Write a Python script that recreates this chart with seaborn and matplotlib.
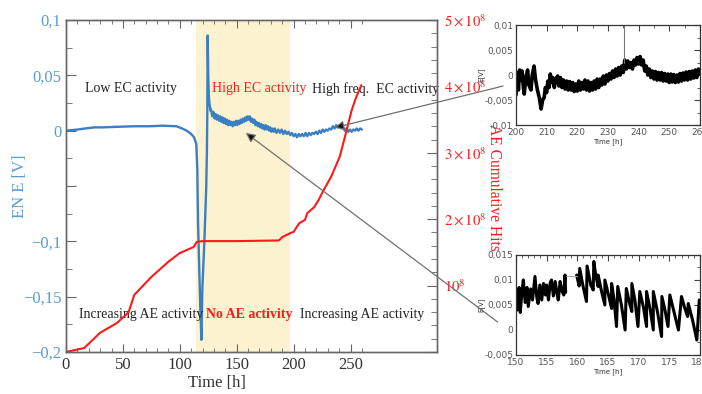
import matplotlib
matplotlib.use("Agg")
import matplotlib.pyplot as plt
import seaborn as sns
import numpy as np
from matplotlib.patches import ConnectionPatch
from matplotlib.ticker import MultipleLocator, FixedLocator, FuncFormatter

sns.set_style("white")
plt.rcParams["font.family"] = ["Liberation Serif", "DejaVu Serif"]
plt.rcParams["mathtext.fontset"] = "stix"

# --- DATOS: señal ENE (eje izquierdo) ---
ene_t = [0, 10, 17, 25, 33, 45, 60, 73, 85, 97, 102, 106, 110, 112.5, 114.5, 115.4, 116, 117, 118, 119,
         119.8, 120.8, 121.6, 122.4, 123.2, 123.8, 124.2, 124.5, 125.0, 125.5, 126, 127,
         127.5, 128.5, 129.5, 130.5, 131.5, 132.5, 133.5, 134.5, 135.5, 136.5, 137.5, 138.5, 139.5,
         140.5, 141.5, 142.5, 143.5, 144.5, 145.5, 146.5, 147.5, 148.5, 149.5, 150.5, 151.5, 152.5,
         153.5, 154.5, 155.5, 156.5, 157.5, 158.5, 159.5, 160.5, 161.5, 162.5, 163.5, 164.5, 165.5,
         166.5, 167.5, 168.5, 169.5, 170.5, 171.5, 172.5, 173.5, 174.5, 175.5, 176.5, 177.5, 178.5,
         179.5, 180.5, 181.5, 182.5, 183.5, 185, 186.5, 188, 189.5, 191, 192.5, 194, 195.5, 197,
         198.5, 200, 201.5, 203, 204.5, 206, 207.5, 209, 210.5, 212, 213.5, 215, 216.5, 218, 219.5,
         221, 222.5, 224, 225.5, 227, 228.5, 230, 231.5, 233, 234.5, 236, 237.5, 239, 240.5, 242,
         243.5, 245, 246.5, 248, 249.5, 251, 252.5, 254, 255.5, 257, 258.5, 260]
ene_v = [0, 0.001, 0.002, 0.003, 0.003, 0.0035, 0.004, 0.004, 0.0045, 0.004, 0.002, 0.0, -0.003, -0.006,
         -0.012, -0.036, -0.082, -0.12, -0.16, -0.189,
         -0.143, -0.12, -0.10, -0.075, -0.052, -0.02, 0.02, 0.086, 0.05, 0.032, 0.025, 0.018,
         0.019, 0.013, 0.017, 0.011, 0.015, 0.010, 0.014, 0.009, 0.013, 0.008, 0.012, 0.007, 0.011,
         0.006, 0.010, 0.005, 0.009, 0.005, 0.008, 0.004, 0.008, 0.005, 0.009, 0.005, 0.009, 0.006,
         0.010, 0.007, 0.011, 0.008, 0.012, 0.009, 0.013, 0.010, 0.013, 0.008, 0.011, 0.007, 0.010,
         0.005, 0.008, 0.004, 0.007, 0.003, 0.006, 0.002, 0.005, 0.001, 0.005, 0.001, 0.004, 0.000,
         0.003, -0.001, 0.002, -0.001, 0.002, -0.002, 0.001, -0.002, 0.001, -0.003, 0.000, -0.003, -0.001, -0.004,
         -0.002, -0.005, -0.003, -0.006, -0.003, -0.005, -0.003, -0.005, -0.002, -0.005, -0.002, -0.004, -0.002, -0.003, -0.001,
         -0.003, 0.000, -0.002, 0.001, -0.001, 0.001, 0.000, 0.002, 0.001, 0.004, 0.002, 0.005, 0.003, 0.005, 0.002,
         0.003, 0.000, 0.002, -0.001, 0.001, -0.001, 0.001, 0.000, 0.002, 0.000, 0.002, 0.001]

# --- DATOS: hits acumulados de EA (eje derecho) ---
ae_t = [0, 16, 30, 45, 55, 60, 75, 90, 100, 112, 115, 120, 150, 187, 190, 197, 200, 205, 210, 212, 218,
        222, 225.5, 233, 240.5, 246, 251, 255, 259.6]
ae_hits = [0, 0.06e8, 0.29e8, 0.44e8, 0.60e8, 0.86e8, 1.13e8, 1.36e8, 1.49e8, 1.58e8, 1.66e8, 1.67e8,
           1.67e8, 1.68e8, 1.73e8, 1.79e8, 1.81e8, 1.94e8, 1.99e8, 2.09e8, 2.18e8,
           2.29e8, 2.41e8, 2.64e8, 2.94e8, 3.30e8, 3.64e8, 3.84e8, 4.02e8]

# --- DATOS: detalle 200-260 h ---
det1_t = [200.0, 200.4, 200.8, 201.2, 201.6, 202.0, 202.4, 202.7, 203.2, 203.8, 204.2, 204.9, 205.3, 205.9,
          206.4, 207.0, 207.6, 208.2, 208.7, 209.2, 209.6, 210.0, 210.4, 210.8, 211.2, 211.6, 212.0, 212.5,
          213.0, 213.6, 214.0, 214.5, 215.0, 215.5, 216.0, 216.5, 217.0, 217.5, 218.0, 218.5, 219.0, 219.5,
          220.0, 220.5, 221.0, 221.5, 222.0, 222.5, 223.0, 223.5, 224.0, 224.5, 225.0, 225.5, 226.0, 226.5,
          227.0, 227.5, 228.0, 228.5, 229.0, 229.5, 230.0, 230.5, 231.0, 231.5, 232.0, 232.5, 233.0, 233.5,
          234.0, 234.5, 235.0, 235.5, 236.0, 236.5, 237.0, 237.5, 238.0, 238.5, 239.0, 239.5, 240.0, 240.5,
          241.0, 241.5, 242.0, 242.5, 243.0, 243.5, 244.0, 244.5, 245.0, 245.5, 246.0, 246.5, 247.0, 247.5,
          248.0, 248.5, 249.0, 249.5, 250.0, 250.5, 251.0, 251.5, 252.0, 252.5, 253.0, 253.5, 254.0, 254.5,
          255.0, 255.5, 256.0, 256.5, 257.0, 257.5, 258.0, 258.5, 259.0, 259.5, 260.0]
det1_v = [-0.0040, 0.0005, -0.0030, 0.0010, -0.0010, 0.0008, -0.0025, -0.0038, -0.0005, 0.0010, -0.0020,
          -0.0030, 0.0000, 0.0018, -0.0010, -0.0030, -0.0045, -0.0068, -0.0050, -0.0045, -0.0025, -0.0035,
          -0.0012, -0.0025, 0.0002, -0.0015, -0.0005, -0.0025, -0.0008, -0.0002, -0.0022, -0.0005, -0.0025,
          -0.0010, -0.0028, -0.0012, -0.0030, -0.0013, -0.0030, -0.0015, -0.0033, -0.0018, -0.0032, -0.0012,
          -0.0030, -0.0015, -0.0028, -0.0010, -0.0030, -0.0012, -0.0032, -0.0015, -0.0030, -0.0012, -0.0028,
          -0.0008, -0.0025, -0.0008, -0.0020, -0.0002, -0.0018, 0.0000, -0.0012, 0.0003, -0.0008, 0.0008,
          -0.0005, 0.0012, -0.0002, 0.0015, 0.0000, 0.0018, 0.0005, 0.0030, 0.0012, 0.0028, 0.0015, 0.0025,
          0.0012, 0.0030, 0.0020, 0.0035, 0.0022, 0.0037, 0.0020, 0.0030, 0.0008, 0.0018, 0.0000, 0.0012,
          -0.0005, 0.0008, -0.0008, 0.0007, -0.0010, 0.0005, -0.0010, 0.0005, -0.0012, 0.0003, -0.0012,
          0.0002, -0.0015, 0.0002, -0.0014, 0.0001, -0.0015, 0.0000, -0.0014, 0.0003, -0.0012, 0.0004,
          -0.0010, 0.0006, -0.0010, 0.0007, -0.0008, 0.0008, -0.0006, 0.0010, -0.0005, 0.0012, 0.0002]
pico_t = [235.1, 235.1]
pico_v = [0.0025, 0.0100]

# --- DATOS: detalle 150-180 h (dos tramos con hueco) ---
det2a_t = [150.0, 150.2, 150.5, 150.7, 151.0, 151.2, 151.5, 151.8, 152.0, 152.4, 152.7, 153.1, 153.4, 153.6,
           153.9, 154.2, 154.5, 154.8, 155.0, 155.3, 155.6, 155.8, 156.1, 156.4, 156.7, 156.9, 157.2, 157.5,
           157.8, 158.0, 158.1]
det2a_v = [0.0075, 0.0040, 0.0085, 0.0035, 0.0080, 0.0100, 0.0055, 0.0085, 0.0047, 0.0082, 0.0060, 0.0107,
           0.0065, 0.0053, 0.0090, 0.0060, 0.0093, 0.0070, 0.0090, 0.0060, 0.0095, 0.0100, 0.0068, 0.0097,
           0.0072, 0.0060, 0.0097, 0.0078, 0.0070, 0.0110, 0.0075]
det2b_t = [159.9, 160.3, 160.4, 160.9, 161.5, 161.6, 162.2, 162.6, 162.7, 163.0, 163.4, 163.4, 164.0, 164.5,
           164.5, 165.0, 165.6, 165.6, 166.0, 166.4, 166.6, 167.2, 167.8, 168.0, 168.5, 168.9, 168.9, 169.4,
           169.9, 170.2, 170.8, 171.3, 171.3, 171.9, 172.4, 172.4, 173.1, 173.75, 173.8, 174.3, 174.8, 175.1,
           175.8, 176.5, 177.0, 177.5, 178.0, 178.1, 178.8, 179.5, 179.9]
det2b_v = [0.0110, 0.0088, 0.0123, 0.0090, 0.0057, 0.0128, 0.0090, 0.0080, 0.0137, 0.0110, 0.0087, 0.0110,
           0.0075, 0.0050, 0.0100, 0.0075, 0.0043, 0.0093, 0.0060, 0.0007, 0.0087, 0.0050, 0.0000, 0.0083,
           0.0055, 0.0037, 0.0093, 0.0060, 0.0007, 0.0077, 0.0045, 0.0007, 0.0077, 0.0040, 0.0000, 0.0077,
           0.0035, -0.0013, 0.0067, 0.0040, 0.0007, 0.0070, 0.0035, 0.0000, 0.0067, 0.0045, 0.0027, 0.0053,
           0.0020, -0.0020, 0.0060]
hueco_t = [158.1, 159.9]
hueco_v = [0.0108, 0.0108]

zona_sin_ae = (114.5, 197)

AZUL = "#3a7fc1"
AZUL_TXT = "#5b9bd5"
ROJO = "#ff1a1a"
GRIS = "#666666"


def coma(v, _):
    v = round(v, 6)
    if abs(v) < 1e-9:
        return "0"
    if abs(v + 0.05) < 1e-9:
        return ""  # en el original este rótulo no aparece
    return f"{v:g}".replace(".", ",").replace("-", "\u2212")


def coma_inset(v, _):
    v = round(v, 6)
    if abs(v) < 1e-9:
        return "0"
    return f"{v:g}".replace(".", ",")


def hits(v, _):
    n = int(round(v / 1e8))
    if n == 0:
        return ""
    if n == 1:
        return r"$10^8$"
    return rf"${n}\times10^8$"


fig = plt.figure(figsize=(7.02, 3.94), dpi=100)
ax = fig.add_axes([0.094, 0.1066, 0.5285, 0.8426])
ax2 = ax.twinx()

# --- GRÁFICO PRINCIPAL ---
ax.axvspan(*zona_sin_ae, color="#fcf2cf", zorder=0, lw=0)
sns.lineplot(x=ene_t, y=ene_v, ax=ax, color=AZUL, lw=1.7, estimator=None, sort=False)
sns.lineplot(x=ae_t, y=ae_hits, ax=ax2, color=ROJO, lw=1.5, estimator=None, sort=False)

ax.set_xlim(0, 326)
ax.set_ylim(-0.2, 0.1)
ax2.set_ylim(0, 5e8)

ax.xaxis.set_major_locator(FixedLocator([0, 50, 100, 150, 200, 250]))
ax.xaxis.set_minor_locator(FixedLocator(list(range(0, 261, 10))))
ax.yaxis.set_major_locator(MultipleLocator(0.05))
ax.yaxis.set_minor_locator(MultipleLocator(0.025))
ax.yaxis.set_major_formatter(FuncFormatter(coma))
ax2.yaxis.set_major_locator(MultipleLocator(1e8))
ax2.yaxis.set_minor_locator(MultipleLocator(0.2e8))
ax2.yaxis.set_major_formatter(FuncFormatter(hits))

ax.tick_params(axis="x", which="both", direction="in", top=True, bottom=True, colors=GRIS,
               labelcolor="#333333", labelsize=12)
ax.tick_params(axis="x", which="major", length=6)
ax.tick_params(axis="x", which="minor", length=3)
ax.tick_params(axis="y", which="both", direction="in", left=True, right=False, colors=GRIS,
               labelcolor=AZUL_TXT, labelsize=12)
ax.tick_params(axis="y", which="major", length=7)
ax.tick_params(axis="y", which="minor", length=4)
ax2.tick_params(axis="y", which="both", direction="in", right=True, colors=GRIS,
                labelcolor=ROJO, labelsize=10.5, pad=5)
ax2.tick_params(axis="y", which="major", length=7)
ax2.tick_params(axis="y", which="minor", length=4)
for a in (ax, ax2):
    for s in a.spines.values():
        s.set_color(GRIS)
        s.set_linewidth(1.0)

ax.set_xlabel("Time [h]", fontsize=12, color="#333333")
ax.xaxis.set_label_coords(0.407, -0.07)
ax.set_ylabel("EN E [V]", fontsize=12, color=AZUL_TXT, labelpad=-4)
ax2.set_ylabel("AE Cumulative Hits", fontsize=11.2, color=ROJO, rotation=270, labelpad=11)
ax2.yaxis.set_label_coords(1.175, 0.495)

ax.text(17, 0.038, "Low EC activity", fontsize=10, color="#222222", va="center")
ax.text(128.5, 0.038, "High EC activity", fontsize=10, color=ROJO, va="center")
ax.text(216, 0.038, "High freq.  EC activity", fontsize=10, color="#222222", va="center")
ax.text(11.5, -0.1665, "Increasing AE activity", fontsize=10, color="#222222", va="center")
ax.text(123, -0.1665, "No AE activity", fontsize=10, color=ROJO, va="center", fontweight="bold")
ax.text(206, -0.1665, "Increasing AE activity", fontsize=10, color="#222222", va="center")

# --- DETALLES ---
in1 = fig.add_axes([0.735, 0.6827, 0.262, 0.2538])
in2 = fig.add_axes([0.735, 0.099, 0.262, 0.2538])

sns.lineplot(x=det1_t, y=det1_v, ax=in1, color="black", lw=2.6, estimator=None, sort=False)
sns.lineplot(x=pico_t, y=pico_v, ax=in1, color="#777777", lw=0.8, estimator=None, sort=False)
sns.lineplot(x=det2a_t, y=det2a_v, ax=in2, color="black", lw=2.2, estimator=None, sort=False)
sns.lineplot(x=det2b_t, y=det2b_v, ax=in2, color="black", lw=2.2, estimator=None, sort=False)
sns.lineplot(x=hueco_t, y=hueco_v, ax=in2, color="#aaaaaa", lw=0.7, estimator=None, sort=False)

in1.set_xlim(200, 260)
in1.set_ylim(-0.01, 0.01)
in1.xaxis.set_major_locator(MultipleLocator(10))
in1.xaxis.set_minor_locator(MultipleLocator(5))
in1.yaxis.set_major_locator(MultipleLocator(0.005))
in1.yaxis.set_minor_locator(MultipleLocator(0.0025))
in2.set_xlim(150, 180)
in2.set_ylim(-0.005, 0.015)
in2.xaxis.set_major_locator(MultipleLocator(5))
in2.xaxis.set_minor_locator(MultipleLocator(1))
in2.yaxis.set_major_locator(MultipleLocator(0.005))
in2.yaxis.set_minor_locator(MultipleLocator(0.0025))

for a in (in1, in2):
    a.yaxis.set_major_formatter(FuncFormatter(coma_inset))
    a.tick_params(which="both", direction="in", top=True, right=True, colors="#444444",
                  labelcolor="#555555", labelsize=6.5, pad=2)
    a.tick_params(which="major", length=4)
    a.tick_params(which="minor", length=2)
    for lab in a.get_xticklabels() + a.get_yticklabels():
        lab.set_family("DejaVu Sans")
    for s in a.spines.values():
        s.set_color("#333333")
        s.set_linewidth(0.9)
    a.set_xlabel("Time [h]", fontsize=5, color="#333333", labelpad=1, family="DejaVu Sans")
    a.set_ylabel("E[V]", fontsize=5, color="#333333", labelpad=0, family="DejaVu Sans")
    a.set_facecolor("white")

# --- FLECHAS ---
for src, xy_src, xy_dst in [(in1, (-0.07, 0.39), (236, 0.0027)),
                            (in2, (-0.1, 0.33), (158, -0.002))]:
    con = ConnectionPatch(xyA=xy_src, coordsA=src.transAxes, xyB=xy_dst, coordsB=ax.transData,
                          arrowstyle="-|>", mutation_scale=14, lw=0.9, shrinkA=0, shrinkB=0,
                          edgecolor="#707070", facecolor="#111111", zorder=10)
    fig.add_artist(con)

fig.savefig("out.png", dpi=100)
